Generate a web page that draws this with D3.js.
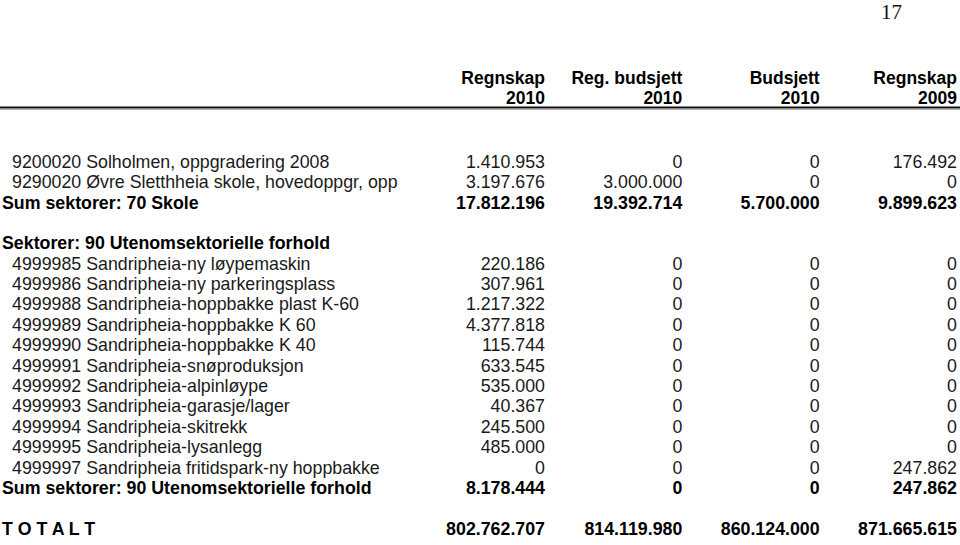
<!DOCTYPE html>
<html>
<head>
<meta charset="utf-8">
<script src="https://cdn.jsdelivr.net/npm/d3@7"></script>
<style>
  html, body { margin: 0; padding: 0; background: #fff; }
  svg { display: block; }
</style>
</head>
<body>
<script>
// ---- data ----
const pageNumber = "17";
const headLine1 = ["Regnskap", "Reg. budsjett", "Budsjett", "Regnskap"];
const headLine2 = ["2010", "2010", "2010", "2009"];

const rowLabels = [
  "9200020 Solholmen, oppgradering 2008",
  "9290020 Øvre Sletthheia skole, hovedoppgr, opp",
  "Sum sektorer: 70 Skole",
  "",
  "Sektorer: 90 Utenomsektorielle forhold",
  "4999985 Sandripheia-ny løypemaskin",
  "4999986 Sandripheia-ny parkeringsplass",
  "4999988 Sandripheia-hoppbakke plast K-60",
  "4999989 Sandripheia-hoppbakke K 60",
  "4999990 Sandripheia-hoppbakke K 40",
  "4999991 Sandripheia-snøproduksjon",
  "4999992 Sandripheia-alpinløype",
  "4999993 Sandripheia-garasje/lager",
  "4999994 Sandripheia-skitrekk",
  "4999995 Sandripheia-lysanlegg",
  "4999997 Sandripheia fritidspark-ny hoppbakke",
  "Sum sektorer: 90 Utenomsektorielle forhold",
  "",
  "T O T A L T"
];
const rowTypes = ["item","item","sum","blank","section","item","item","item","item","item","item","item","item","item","item","item","sum","blank","total"];

const regnskap2010 = [1410953, 3197676, 17812196, null, null, 220186, 307961, 1217322, 4377818, 115744, 633545, 535000, 40367, 245500, 485000, 0, 8178444, null, 802762707];
const regBudsjett2010 = [0, 3000000, 19392714, null, null, 0, 0, 0, 0, 0, 0, 0, 0, 0, 0, 0, 0, null, 814119980];
const budsjett2010 = [0, 0, 5700000, null, null, 0, 0, 0, 0, 0, 0, 0, 0, 0, 0, 0, 0, null, 860124000];
const regnskap2009 = [176492, 0, 9899623, null, null, 0, 0, 0, 0, 0, 0, 0, 0, 0, 0, 247862, 247862, null, 871665615];

const seriesValues = [regnskap2010, regBudsjett2010, budsjett2010, regnskap2009];

// ---- drawing ----
const W = 960, H = 545;
const svg = d3.select("body").append("svg").attr("width", W).attr("height", H);

const fontFamily = "'Liberation Sans', Arial, Helvetica, sans-serif";
const fs = 17.8;

const nb = d3.formatLocale({decimal: ",", thousands: ".", grouping: [3], currency: ["", ""]});
const fmt = nb.format(",d");

// column right edges
const colX = d3.scalePoint().domain(d3.range(headLine1.length)).range([545, 957]);
// row positions
const rowY = d3.scalePoint().domain(d3.range(rowLabels.length)).range([161.5, 528.5]);

// page number
svg.append("text")
  .attr("x", 902).attr("y", 19)
  .attr("text-anchor", "end")
  .attr("font-family", "'Liberation Serif', 'Times New Roman', serif")
  .attr("font-size", 21)
  .attr("fill", "#111")
  .text(pageNumber);

// headers
const hdr = svg.append("g")
  .attr("font-family", fontFamily)
  .attr("font-size", 17.5)
  .attr("font-weight", "bold")
  .attr("fill", "#000")
  .attr("text-anchor", "end");

hdr.selectAll("text.h1").data(headLine1).join("text")
  .attr("class", "h1")
  .attr("x", (d, i) => colX(i))
  .attr("y", 84)
  .text(d => d);

hdr.selectAll("text.h2").data(headLine2).join("text")
  .attr("class", "h2")
  .attr("x", (d, i) => colX(i))
  .attr("y", 104)
  .text(d => d);

// header rule
svg.append("line")
  .attr("x1", 0).attr("x2", W)
  .attr("y1", 107.5).attr("y2", 107.5)
  .attr("stroke", "#111").attr("stroke-width", 2.2);
svg.append("line")
  .attr("x1", 0).attr("x2", W)
  .attr("y1", 109.5).attr("y2", 109.5)
  .attr("stroke", "#999").attr("stroke-width", 0.8);

// rows
const rows = rowLabels.map((label, i) => ({label, type: rowTypes[i], i}));
const body = svg.append("g").attr("font-family", fontFamily).attr("font-size", fs);

const rowG = body.selectAll("g.row").data(rows).join("g")
  .attr("class", "row")
  .attr("transform", d => `translate(0,${rowY(d.i)})`);

rowG.append("text")
  .attr("x", d => d.type === "item" ? 12 : 2)
  .attr("dy", "0.35em")
  .attr("font-weight", d => d.type === "item" ? "normal" : "bold")
  .attr("fill", d => d.type === "item" ? "#1a1a1a" : "#000")
  .text(d => d.label);

rowG.each(function(d) {
  const g = d3.select(this);
  seriesValues.forEach((series, c) => {
    const v = series[d.i];
    if (v === null || v === undefined) return;
    g.append("text")
      .attr("x", colX(c))
      .attr("dy", "0.35em")
      .attr("text-anchor", "end")
      .attr("font-weight", d.type === "item" ? "normal" : "bold")
      .attr("fill", d.type === "item" ? "#1a1a1a" : "#000")
      .text(fmt(v));
  });
});
</script>
</body>
</html>
